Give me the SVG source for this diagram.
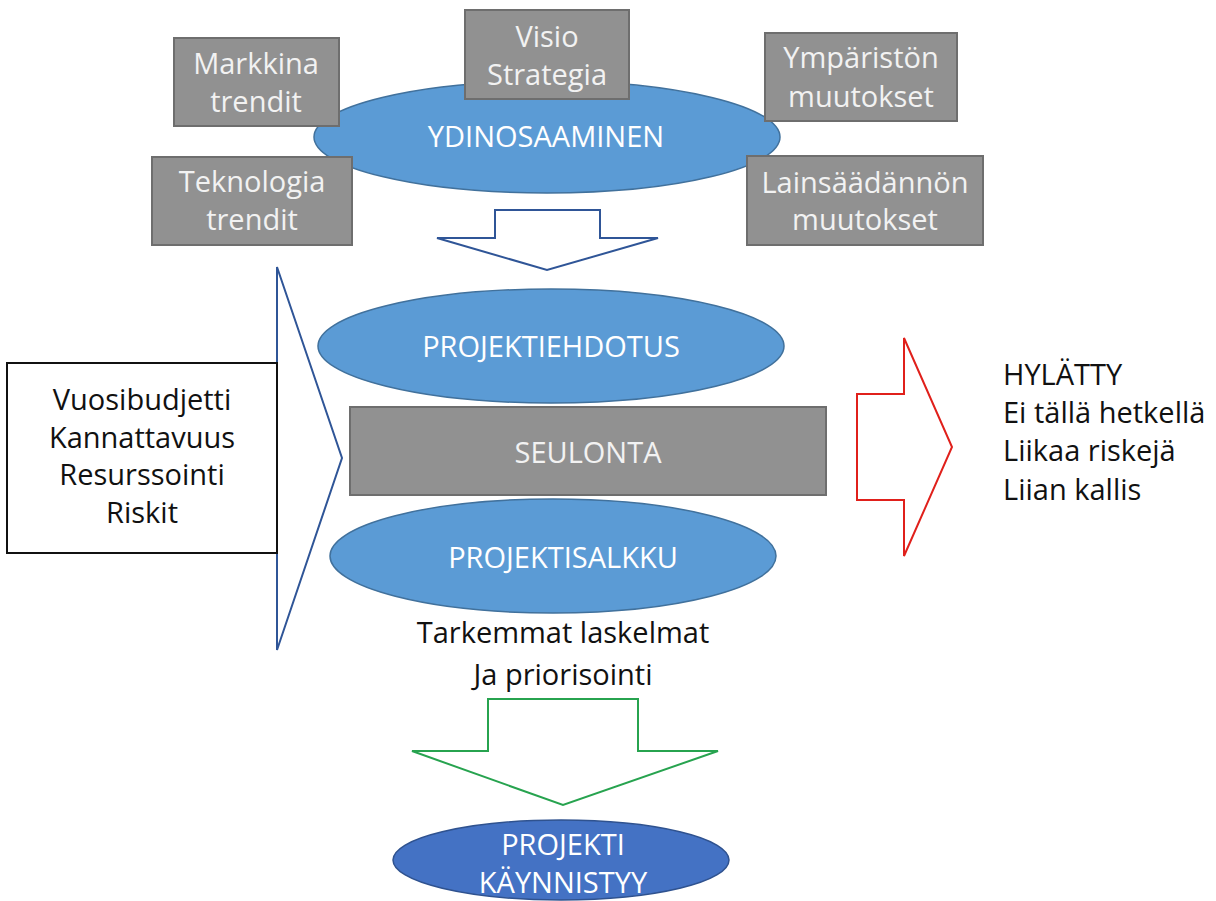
<svg xmlns="http://www.w3.org/2000/svg" width="1216" height="901" viewBox="0 0 1216 901">
<style>
text{font-family:"Open Sans","Noto Sans",sans-serif;font-size:29px;text-anchor:middle}
.w{fill:#ffffff}
.g{fill:#f2f2f2}
.k{fill:#111111}
.ell{fill:#5b9bd5;stroke:#41719c;stroke-width:1.5}
.box{fill:#919191;stroke:#6e6e6e;stroke-width:2}
.arr{fill:#ffffff;stroke-width:2;stroke-linejoin:miter}
</style>
<rect width="1216" height="901" fill="#ffffff"/>
<g id="connectors">
<path class="arr" stroke="#2f5597" d="M495,210 H600 V238 H658 L547,270 L437,238 H495 Z"/>
<path class="arr" stroke="#2f5597" d="M277,267 L342,458 L277,650 Z"/>
<path class="arr" stroke="#e0201b" d="M857,394 H904 V338 L952,447 L904,556 V500 H857 Z"/>
<path class="arr" stroke="#27a34f" d="M488,699 H638 V751 H718 L563,805 L412,751 H488 Z"/>
</g>
<g id="ydinosaaminen">
<ellipse class="ell" cx="547" cy="137" rx="233" ry="56"/>
<text class="w" x="546" y="147">YDINOSAAMINEN</text>
</g>
<g id="markkina">
<rect class="box" x="174" y="38" width="165" height="88"/>
<text class="g" x="256" y="74">Markkina</text>
<text class="g" x="256" y="112">trendit</text>
</g>
<g id="visio">
<rect class="box" x="465" y="10" width="164" height="89"/>
<text class="g" x="547" y="47">Visio</text>
<text class="g" x="547" y="85">Strategia</text>
</g>
<g id="ymparisto">
<rect class="box" x="765" y="33" width="192" height="88"/>
<text class="g" x="861" y="68">Ympäristön</text>
<text class="g" x="861" y="107">muutokset</text>
</g>
<g id="teknologia">
<rect class="box" x="152" y="157" width="200" height="88"/>
<text class="g" x="252" y="192">Teknologia</text>
<text class="g" x="252" y="230">trendit</text>
</g>
<g id="lainsaadanto">
<rect class="box" x="747" y="156" width="236" height="89"/>
<text class="g" x="865" y="193">Lainsäädännön</text>
<text class="g" x="865" y="230">muutokset</text>
</g>
<g id="kriteerit">
<rect x="7" y="363" width="270" height="190" fill="#ffffff" stroke="#111111" stroke-width="2"/>
<text class="k" x="142" y="410">Vuosibudjetti</text>
<text class="k" x="142" y="448">Kannattavuus</text>
<text class="k" x="142" y="485">Resurssointi</text>
<text class="k" x="142" y="523">Riskit</text>
</g>
<g id="projektiehdotus">
<ellipse class="ell" cx="551" cy="346" rx="233" ry="57"/>
<text class="w" x="551" y="357">PROJEKTIEHDOTUS</text>
</g>
<g id="seulonta">
<rect class="box" x="350" y="407" width="476" height="88"/>
<text class="g" x="588" y="463">SEULONTA</text>
</g>
<g id="projektisalkku">
<ellipse class="ell" cx="553" cy="556" rx="223" ry="57"/>
<text class="w" x="563" y="568">PROJEKTISALKKU</text>
</g>
<g id="tarkemmat">
<text class="k" x="563" y="643">Tarkemmat laskelmat</text>
<text class="k" x="563" y="685">Ja priorisointi</text>
</g>
<g id="hylatty">
<text class="k" x="1003" y="385" style="text-anchor:start">HYLÄTTY</text>
<text class="k" x="1003" y="423" style="text-anchor:start">Ei tällä hetkellä</text>
<text class="k" x="1003" y="461" style="text-anchor:start">Liikaa riskejä</text>
<text class="k" x="1003" y="500" style="text-anchor:start">Liian kallis</text>
</g>
<g id="kaynnistyy">
<ellipse cx="561" cy="860" rx="168" ry="40" fill="#4472c4" stroke="#2f528f" stroke-width="1.5"/>
<text class="w" x="563" y="855">PROJEKTI</text>
<text class="w" x="563" y="893">KÄYNNISTYY</text>
</g>
</svg>
